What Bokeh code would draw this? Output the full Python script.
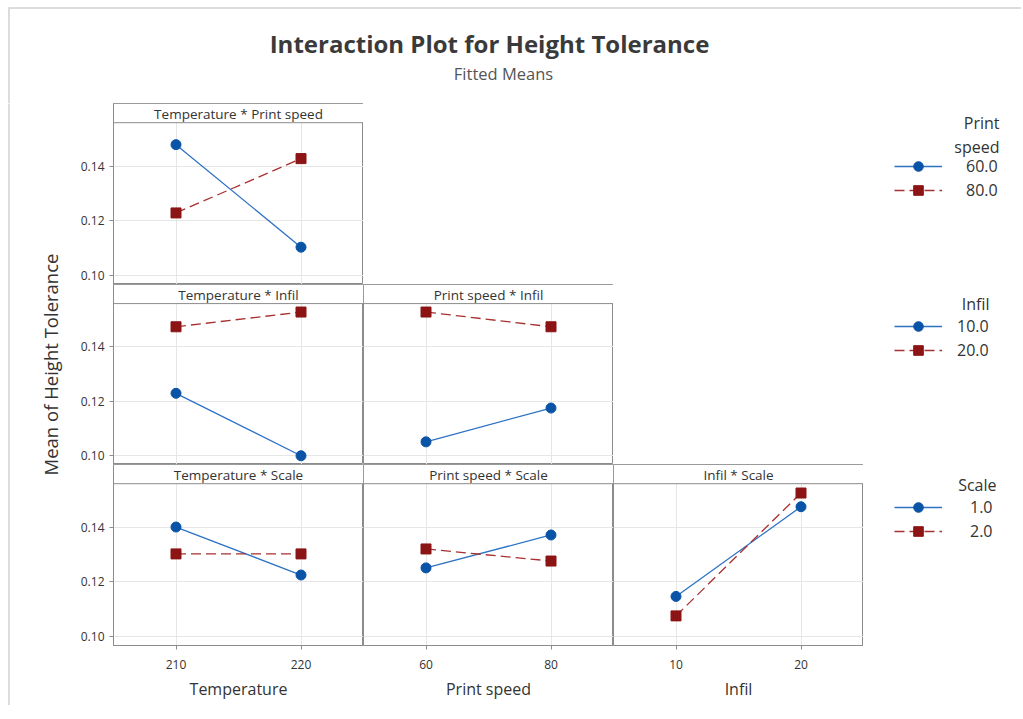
import math
from bokeh.plotting import figure
from bokeh.layouts import column, row, gridplot
from bokeh.models import (Range1d, FixedTicker, PrintfTickFormatter, Legend,
                          LegendItem, Grid)
from bokeh.core.properties import value
from bokeh.embed import file_html
from bokeh.resources import INLINE

FONT = "Open Sans"

# ---------------- data ----------------
temp_levels = [210, 220]
speed_levels = [60, 80]
infil_levels = [10, 20]
y_ticks = [0.10, 0.12, 0.14]

# Temperature * Print speed  (Print speed 60 / 80)
tp_speed60 = [0.1478, 0.1104]
tp_speed80 = [0.1229, 0.1427]
# Temperature * Infil  (Infil 10 / 20)
ti_infil10 = [0.1229, 0.1000]
ti_infil20 = [0.1473, 0.1527]
# Print speed * Infil
pi_infil10 = [0.1051, 0.1175]
pi_infil20 = [0.1527, 0.1473]
# Temperature * Scale  (Scale 1 / 2)
ts_scale1 = [0.1400, 0.1225]
ts_scale2 = [0.1302, 0.1302]
# Print speed * Scale
ps_scale1 = [0.1251, 0.1371]
ps_scale2 = [0.1320, 0.1276]
# Infil * Scale
is_scale1 = [0.1147, 0.1474]
is_scale2 = [0.1076, 0.1524]

legend_groups = [
    (["Print", "speed"], ["60.0", "80.0"]),
    (["Infil"], ["10.0", "20.0"]),
    (["Scale"], ["1.0", "2.0"]),
]

# ---------------- style ----------------
BLUE = "#0A54A8"
BLUE_LINE = "#2D72C4"
RED = "#8C1414"
RED_LINE = "#A83030"
FRAME = "#8C8C8C"
GRIDC = "#E6E6E6"
TXT = "#333333"
EDGE = "#DCDCDC"
DASH = "10 5"

YLO, YHI, HDR = 0.0968, 0.1628, 0.1558
PANEL_W = 250
LEFT_B = 47
BOTTOM_B = 60
YLAB_W = 66
ROWS_H = 181 + 180 + 181 + BOTTOM_B


def panel(header, xlevels, xr, s1, s2, left=False, bottom=False,
          xlabel=None, frame_h=181):
    w = PANEL_W + (LEFT_B if left else 0)
    h = frame_h + (BOTTOM_B if bottom else 0)
    p = figure(width=w, height=h, title=None,
               x_range=Range1d(*xr), y_range=Range1d(YLO, YHI),
               output_backend="svg", toolbar_location=None,
               min_border_left=LEFT_B if left else 0, min_border_right=0,
               min_border_top=0, min_border_bottom=BOTTOM_B if bottom else 0,
               x_axis_location="below" if bottom else None,
               y_axis_location="left" if left else None)
    p.center = []
    p.add_layout(Grid(dimension=0, ticker=FixedTicker(ticks=xlevels),
                      grid_line_color=GRIDC, grid_line_width=1))
    p.add_layout(Grid(dimension=1, ticker=FixedTicker(ticks=y_ticks),
                      grid_line_color=GRIDC, grid_line_width=1))
    p.outline_line_color = FRAME
    p.outline_line_width = 1
    p.background_fill_color = "white"
    p.border_fill_color = "white"

    for ax in p.xaxis + p.yaxis:
        ax.axis_line_color = FRAME
        ax.major_tick_line_color = FRAME
        ax.major_tick_out = 4
        ax.major_tick_in = 0
        ax.minor_tick_line_color = None
        ax.major_label_text_font = FONT
        ax.major_label_text_font_size = "12px"
        ax.major_label_text_color = TXT
        ax.axis_label_text_font = FONT
        ax.axis_label_text_font_style = "normal"
        ax.axis_label_text_color = TXT
    if bottom:
        p.xaxis.ticker = FixedTicker(ticks=xlevels)
        p.xaxis.major_label_standoff = 10
        p.xaxis.axis_label = xlabel
        p.xaxis.axis_label_standoff = 6
        p.xaxis.axis_label_text_font_size = "16px"
    if left:
        p.yaxis.ticker = FixedTicker(ticks=y_ticks)
        p.yaxis.formatter = PrintfTickFormatter(format="%.2f")
        p.yaxis.major_label_standoff = 5

    # header strip
    p.quad(left=[xr[0]], right=[xr[1]], bottom=[HDR], top=[YHI],
           fill_color="white", line_color=FRAME, line_width=1)
    p.text(x=[(xr[0] + xr[1]) / 2], y=[(HDR + YHI) / 2 - 0.0003], text=[header],
           text_align="center", text_baseline="middle",
           text_font=value(FONT), text_font_size="13.5px", text_color=TXT)

    p.line(xlevels, s1, line_color=BLUE_LINE, line_width=1.3)
    p.scatter(xlevels, s1, marker="circle", size=10,
              fill_color=BLUE, line_color=BLUE)
    p.line(xlevels, s2, line_color=RED_LINE, line_width=1.3, line_dash=DASH)
    p.scatter(xlevels, s2, marker="square", size=10,
              fill_color=RED, line_color=RED)
    return p


TR = (205, 225)
SR = (50, 90)
IR = (5, 25)

f11 = panel("Temperature * Print speed", temp_levels, TR, tp_speed60, tp_speed80,
            left=True, frame_h=181)
f21 = panel("Temperature * Infil", temp_levels, TR, ti_infil10, ti_infil20,
            left=True, frame_h=180)
f22 = panel("Print speed * Infil", speed_levels, SR, pi_infil10, pi_infil20,
            frame_h=180)
f31 = panel("Temperature * Scale", temp_levels, TR, ts_scale1, ts_scale2,
            left=True, bottom=True, xlabel="Temperature", frame_h=181)
f32 = panel("Print speed * Scale", speed_levels, SR, ps_scale1, ps_scale2,
            bottom=True, xlabel="Print speed", frame_h=181)
f33 = panel("Infil * Scale", infil_levels, IR, is_scale1, is_scale2,
            bottom=True, xlabel="Infil", frame_h=181)

grid = gridplot([[f11, None, None], [f21, f22, None], [f31, f32, f33]],
                toolbar_location=None)


def blank(w, h):
    f = figure(width=w, height=h, title=None, x_range=Range1d(0, w),
               y_range=Range1d(0, h), output_backend="svg",
               toolbar_location=None, min_border=0,
               x_axis_location=None, y_axis_location=None)
    f.center = []
    f.outline_line_color = None
    return f


# ---------------- y-axis title ----------------
yl = blank(YLAB_W, ROWS_H)
yl.text(x=[50], y=[341], text=["Mean of Height Tolerance"], angle=math.pi / 2,
        text_align="center", text_baseline="middle", text_font=value(FONT),
        text_font_size="18.5px", text_color=TXT)
yl.segment(x0=[8.5], y0=[0], x1=[8.5], y1=[ROWS_H], line_color=EDGE, line_width=2)

# ---------------- legend figure ----------------
LW = 158
lg = blank(LW, ROWS_H)

legend_bottom = [503, 343, 162]
legend_standoff = [24, 15, 28]
title_pos = [(136, [583, 559]), (126, [402]), (133, [221])]
OFF = [-1000, -990]

for (titles, labels), vy, so, (tx, tys) in zip(legend_groups, legend_bottom,
                                                legend_standoff, title_pos):
    l1 = lg.line(x=OFF, y=OFF, line_color=BLUE_LINE, line_width=1.3)
    m1 = lg.scatter(x=OFF, y=OFF, marker="circle", size=10,
                    fill_color=BLUE, line_color=BLUE)
    l2 = lg.line(x=OFF, y=OFF, line_color=RED_LINE, line_width=1.3, line_dash=DASH)
    m2 = lg.scatter(x=OFF, y=OFF, marker="square", size=10,
                    fill_color=RED, line_color=RED)
    leg = Legend(items=[LegendItem(label=labels[0], renderers=[l1, m1]),
                        LegendItem(label=labels[1], renderers=[l2, m2])],
                 location=(31, vy), glyph_width=48, glyph_height=24,
                 label_height=24, spacing=0, padding=0, margin=0,
                 label_standoff=so, border_line_color=None,
                 background_fill_alpha=0, label_text_font=FONT,
                 label_text_font_size="16px", label_text_color=TXT,
                 label_text_baseline="middle")
    lg.add_layout(leg)
    lg.text(x=[tx] * len(titles), y=tys, text=titles, text_align="right",
            text_baseline="middle", text_font=value(FONT),
            text_font_size="16px", text_color=TXT)

# ---------------- title figure ----------------
TW, TH = YLAB_W + LEFT_B + 3 * PANEL_W + LW, 103
tf = blank(TW, TH)
tf.segment(x0=[8.5, 8], y0=[0, TH - 7.5], x1=[8.5, TW], y1=[TH - 7, TH - 7.5],
           line_color=EDGE, line_width=2)
tf.text(x=[489], y=[TH - 43], text=["Interaction Plot for Height Tolerance"],
        text_align="center", text_baseline="middle", text_font=value(FONT),
        text_font_size="24px", text_font_style="bold", text_color="#3A3A3A")
tf.text(x=[503], y=[TH - 73], text=["Fitted Means"],
        text_align="center", text_baseline="middle", text_font=value(FONT),
        text_font_size="16.5px", text_color="#555555")

layout = column(tf, row(yl, grid, lg))

open("out.html", "w").write(file_html(layout, INLINE))
